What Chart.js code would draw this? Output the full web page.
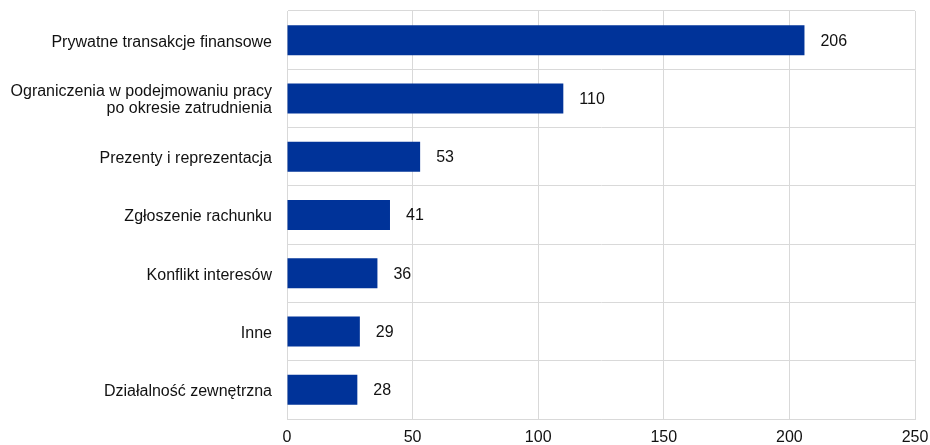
<!DOCTYPE html>
<html>
<head>
<meta charset="utf-8">
<script src="https://cdn.jsdelivr.net/npm/chart.js@4/dist/chart.umd.min.js"></script>
<style>
  html, body { margin: 0; padding: 0; background: #fff; }
  #wrap { width: 930px; height: 445px; position: relative; }
</style>
</head>
<body>
<div id="wrap"><canvas id="c"></canvas></div>
<script>
const categories = [
  "Prywatne transakcje finansowe",
  ["Ograniczenia w podejmowaniu pracy", "po okresie zatrudnienia"],
  "Prezenty i reprezentacja",
  "Zgłoszenie rachunku",
  "Konflikt interesów",
  "Inne",
  "Działalność zewnętrzna"
];
const counts = [206, 110, 53, 41, 36, 29, 28];
const xTicks = [0, 50, 100, 150, 200, 250];

const FONT = "'Liberation Sans', Arial, sans-serif";

// Writes each bar's value just past its end
const valueLabels = {
  id: 'valueLabels',
  afterDatasetsDraw(chart) {
    const ctx = chart.ctx;
    const meta = chart.getDatasetMeta(0);
    ctx.save();
    ctx.font = '16px ' + FONT;
    ctx.fillStyle = '#111';
    ctx.textAlign = 'left';
    ctx.textBaseline = 'middle';
    meta.data.forEach((bar, i) => {
      ctx.fillText(String(counts[i]), bar.x + 16, bar.y + 1);
    });
    ctx.restore();
  }
};

new Chart(document.getElementById('c'), {
  type: 'bar',
  data: {
    labels: categories,
    datasets: [{
      data: counts,
      backgroundColor: '#003399',
      borderWidth: 0,
      barPercentage: 0.515,
      categoryPercentage: 1
    }]
  },
  options: {
    indexAxis: 'y',
    responsive: true,
    maintainAspectRatio: false,
    animation: false,
    layout: { padding: { left: 0, right: 15, top: 11, bottom: 0 } },
    plugins: { legend: { display: false }, tooltip: { enabled: false } },
    scales: {
      x: {
        min: 0, max: 250,
        afterBuildTicks(scale) { scale.ticks = xTicks.map(v => ({ value: v })); },
        afterFit(scale) { scale.height = 26; scale.paddingLeft = 0; scale.paddingRight = 0; },
        grid: { color: '#d9d9d9', drawTicks: false, lineWidth: 1 },
        border: { display: true, color: '#d9d9d9' },
        ticks: { color: '#111', font: { family: FONT, size: 16 }, padding: 9 }
      },
      y: {
        offset: true,
        afterFit(scale) { scale.width = 287; scale.paddingTop = 0; scale.paddingBottom = 0; },
        grid: { color: '#d9d9d9', drawTicks: false, offset: true, lineWidth: 1 },
        border: { display: true, color: '#d9d9d9' },
        ticks: { color: '#111', font: { family: FONT, size: 16, lineHeight: 1.08 }, padding: 15, labelOffset: 2 }
      }
    }
  },
  plugins: [valueLabels]
});
</script>
</body>
</html>
